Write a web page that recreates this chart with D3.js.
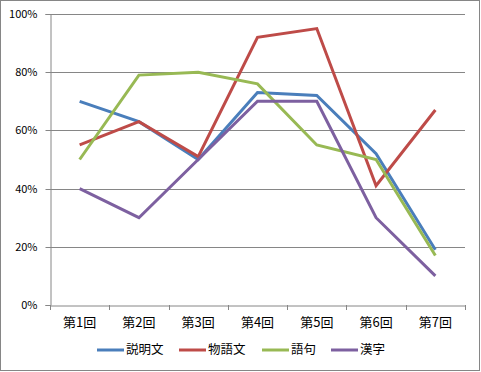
<!DOCTYPE html>
<html><head><meta charset="utf-8">
<script src="https://cdn.jsdelivr.net/npm/d3@7/dist/d3.min.js"></script>
<style>body{margin:0;background:#fff}svg{display:block}</style>
</head><body>
<svg id="c" width="481" height="372"></svg>
<script>
const categories = ["第1回","第2回","第3回","第4回","第5回","第6回","第7回"];
const seriesNames = ["説明文","物語文","語句","漢字"];
const setsumei = [70,63,50,73,72,52,19];
const monogatari = [55,63,51,92,95,41,67];
const goku = [50,79,80,76,55,50,17];
const kanji = [40,30,50,70,70,30,10];
const yTicks = [0,20,40,60,80,100];
const colors = ["#4A7EBB","#BE4B48","#98B954","#7D60A0"];
const seriesValues = [setsumei, monogatari, goku, kanji];

const svg = d3.select("#c");
const font = "'Noto Sans CJK JP', 'Liberation Sans', sans-serif";
svg.append("rect").attr("x",0.5).attr("y",0.5).attr("width",479).attr("height",370)
  .attr("fill","#fff").attr("stroke","#868686");

const L=50, R=465, T=14, B=305;
const x = d3.scaleBand().domain(categories).range([L,R]);
const y = d3.scaleLinear().domain([0,100]).range([B,T]);

// gridlines
svg.append("g").selectAll("line").data(yTicks.filter(d=>d>0)).join("line")
  .attr("x1",L).attr("x2",R).attr("y1",d=>Math.round(y(d))+0.5).attr("y2",d=>Math.round(y(d))+0.5)
  .attr("stroke","#868686").attr("stroke-width",1);

const yAxis = svg.append("g").attr("transform",`translate(${L+0.5},0)`)
  .call(d3.axisLeft(y).tickValues(yTicks).tickFormat(d=>d+"%").tickSize(5).tickPadding(8));
yAxis.selectAll("path,line").attr("stroke","#868686");
yAxis.selectAll("text").attr("font-family",font).attr("font-size","11px").attr("fill","#000");
yAxis.selectAll(".tick").attr("transform",d=>`translate(0,${Math.round(y(d))+0.5})`);

const xAxis = svg.append("g").attr("transform",`translate(0,${B+0.5})`)
  .call(d3.axisBottom(x).tickSize(0).tickPadding(12));
xAxis.select("path").attr("stroke","#868686");
xAxis.selectAll("text").attr("font-family",font).attr("font-size","13px").attr("fill","#000");
// boundary tick marks
svg.append("g").selectAll("line").data(d3.range(categories.length+1)).join("line")
  .attr("x1",i=>Math.round(L+i*x.step())+0.5).attr("x2",i=>Math.round(L+i*x.step())+0.5)
  .attr("y1",B).attr("y2",B+5).attr("stroke","#868686");

const line = d3.line().x((d,i)=>x(categories[i])+x.bandwidth()/2).y(d=>y(d));
svg.append("g").selectAll("path").data(seriesValues).join("path")
  .attr("d",d=>line(d)).attr("fill","none").attr("stroke",(d,i)=>colors[i])
  .attr("stroke-width",3).attr("stroke-linejoin","miter");

// legend
const legX = [97,179,262,331];
const lg = svg.append("g").selectAll("g").data(seriesNames).join("g")
  .attr("transform",(d,i)=>`translate(${legX[i]},350)`);
lg.append("line").attr("x1",0).attr("x2",27).attr("stroke",(d,i)=>colors[i]).attr("stroke-width",3);
lg.append("text").attr("x",29).attr("dy","0.35em").text(d=>d)
  .attr("font-family",font).attr("font-size","12.5px").attr("fill","#000");
</script>
</body></html>
